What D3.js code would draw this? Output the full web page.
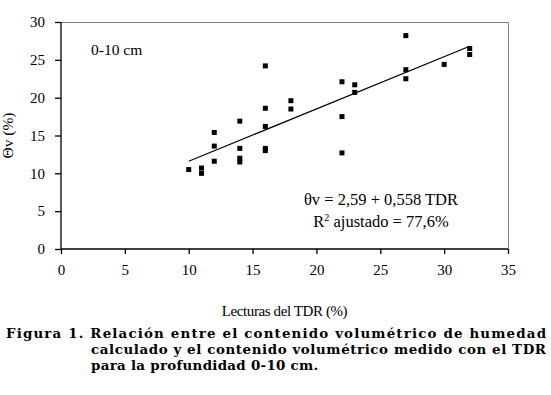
<!DOCTYPE html>
<html>
<head>
<meta charset="utf-8">
<script src="https://cdn.jsdelivr.net/npm/d3@7"></script>
<style>
  body { margin: 0; background: #fff; }
  svg { display: block; }
  .serif { font-family: 'Liberation Serif', 'Times New Roman', Times, serif; }
  .cap { font-family: 'DejaVu Serif', serif; font-weight: bold; font-size: 13.4px; }
</style>
</head>
<body>
<svg id="chart" width="551" height="395"></svg>
<script>
// TDR readings (x) and calculated volumetric water content (y)
const tdr = [10, 11, 11, 12, 12, 12, 14, 14, 14, 14, 16, 16, 16, 16, 16, 18, 18, 22, 22, 22, 23, 23, 27, 27, 27, 30, 32, 32];
const thetaV = [10.5, 10.7, 10.0, 15.4, 13.6, 11.6, 16.9, 13.3, 12.0, 11.5, 24.2, 18.6, 16.2, 13.3, 13.0, 19.6, 18.5, 22.1, 17.5, 12.7, 21.7, 20.7, 28.2, 23.7, 22.5, 24.4, 26.5, 25.7];
// fitted line end points as drawn
const fitX = [10, 32];
const fitY = [11.6, 26.8];
const xTicks = [0, 5, 10, 15, 20, 25, 30, 35];
const yTicks = [0, 5, 10, 15, 20, 25, 30];
const captionLines = [
  'Figura 1. Relación entre el contenido volumétrico de humedad',
  'calculado y el contenido volumétrico medido con el TDR',
  'para la profundidad 0-10 cm.'
];

const margin = { top: 22, right: 43, bottom: 146, left: 61 };
const svg = d3.select('#chart');
const width = 551 - margin.left - margin.right;
const height = 395 - margin.top - margin.bottom;

const xScale = d3.scaleLinear().domain([0, 35]).range([0, width]);
const yScale = d3.scaleLinear().domain([0, 30]).range([height, 0]);

const chart = svg.append('g')
  .attr('transform', `translate(${margin.left},${margin.top})`);

// grey frame on top and right
chart.append('path')
  .attr('d', `M0,0.5H${width + 0.5}V${height}`)
  .attr('fill', 'none')
  .attr('stroke', '#808080')
  .attr('stroke-width', 1);

const xAxisG = chart.append('g')
  .attr('transform', `translate(0,${height})`)
  .call(d3.axisBottom(xScale).tickValues(xTicks).tickSize(5).tickPadding(10).tickFormat(d3.format('d')));

const yAxisG = chart.append('g')
  .call(d3.axisLeft(yScale).tickValues(yTicks).tickSize(6).tickPadding(10).tickFormat(d3.format('d')));

[xAxisG, yAxisG].forEach(g => {
  g.attr('font-family', null).attr('font-size', null).attr('class', 'serif');
  g.select('.domain').attr('stroke', '#000').attr('stroke-width', 1.3);
  g.selectAll('.tick line').attr('stroke', '#000').attr('stroke-width', 1.3);
  g.selectAll('.tick text')
    .attr('fill', '#000')
    .style('font-size', '15px');
});
yAxisG.select('.domain').attr('d', `M0,${height}V0`);
xAxisG.select('.domain').attr('d', `M0,0H${width}`);

// trend line
chart.append('line')
  .attr('x1', xScale(fitX[0])).attr('y1', yScale(fitY[0]))
  .attr('x2', xScale(fitX[1])).attr('y2', yScale(fitY[1]))
  .attr('stroke', '#000')
  .attr('stroke-width', 1.2);

// points
const s = 5;
chart.selectAll('rect.pt')
  .data(tdr.map((x, i) => ({ x, y: thetaV[i] })))
  .join('rect')
  .attr('class', 'pt')
  .attr('x', d => xScale(d.x) - s / 2)
  .attr('y', d => yScale(d.y) - s / 2)
  .attr('width', s)
  .attr('height', s)
  .attr('fill', '#000');

// annotations
chart.append('text')
  .attr('class', 'serif')
  .attr('x', 30).attr('y', 33)
  .style('font-size', '15.5px')
  .text('0-10 cm');

chart.append('text')
  .attr('class', 'serif')
  .attr('x', 320).attr('y', 183)
  .attr('text-anchor', 'middle')
  .style('font-size', '16.5px')
  .text('θv = 2,59 + 0,558 TDR');

const r2 = chart.append('text')
  .attr('class', 'serif')
  .attr('x', 320).attr('y', 205)
  .attr('text-anchor', 'middle')
  .style('font-size', '16.5px');
r2.append('tspan').text('R');
r2.append('tspan').attr('dy', -6).style('font-size', '10px').text('2');
r2.append('tspan').attr('dy', 6).text(' ajustado = 77,6%');

// axis titles
svg.append('text')
  .attr('class', 'serif')
  .attr('x', margin.left + width / 2).attr('y', 316)
  .attr('text-anchor', 'middle')
  .style('font-size', '15px')
  .style('letter-spacing', '-0.4px')
  .text('Lecturas del TDR (%)');

svg.append('text')
  .attr('class', 'serif')
  .attr('transform', `translate(13,${margin.top + height / 2}) rotate(-90)`)
  .attr('text-anchor', 'middle')
  .style('font-size', '15.5px')
  .text('Θv (%)');

// caption
svg.append('text')
  .attr('class', 'cap')
  .attr('x', 6).attr('y', 338)
  .attr('textLength', 540).attr('lengthAdjust', 'spacing')
  .text(captionLines[0]);
svg.append('text')
  .attr('class', 'cap')
  .attr('x', 91).attr('y', 354)
  .attr('textLength', 455).attr('lengthAdjust', 'spacing')
  .text(captionLines[1]);
svg.append('text')
  .attr('class', 'cap')
  .attr('x', 91).attr('y', 370)
  .style('letter-spacing', '0.3px')
  .text(captionLines[2]);
</script>
</body>
</html>
